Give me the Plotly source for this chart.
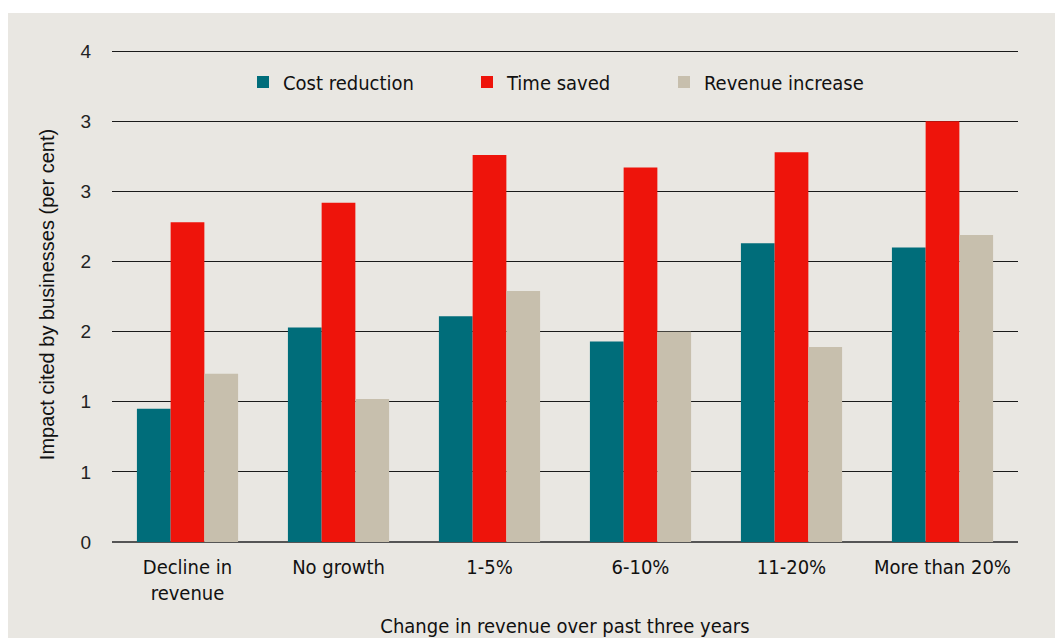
import plotly.graph_objects as go

categories = ["Decline in<br>revenue", "No growth", "1-5%", "6-10%", "11-20%", "More than 20%"]
cost_reduction = [0.95, 1.53, 1.61, 1.43, 2.13, 2.10]
time_saved = [2.28, 2.42, 2.76, 2.67, 2.78, 3.00]
revenue_increase = [1.20, 1.02, 1.79, 1.50, 1.39, 2.19]
tick_values = [0, 0.5, 1, 1.5, 2, 2.5, 3, 3.5]
tick_labels = ["0", "1", "1", "2", "2", "3", "3", "4"]

BG = "#E9E7E2"
NARROW = "DejaVu Sans Condensed, Liberation Sans Narrow, sans-serif"
SANS = "Liberation Sans, Arial, sans-serif"

W, H = 1055, 638
L, R, T, B = 112, 37, 47, 96
pw, ph = W - L - R, H - T - B


def px_x(x):
    return (x - L) / pw


def px_y(y):
    return (H - B - y) / ph


series = [
    ("Cost reduction", cost_reduction, "#006D7A", "legend", 253),
    ("Time saved", time_saved, "#EE140B", "legend2", 477),
    ("Revenue increase", revenue_increase, "#C7BFAD", "legend3", 674),
]

fig = go.Figure()
for name, vals, color, leg, _ in series:
    fig.add_trace(go.Bar(
        x=categories, y=vals, name=name, legend=leg,
        marker=dict(color=color, line=dict(width=0)),
    ))

# grey panel behind everything, leaving a thin white strip on the left and top
fig.add_shape(
    type="rect", xref="paper", yref="paper", layer="below",
    x0=px_x(8), x1=px_x(W), y0=px_y(H), y1=px_y(13),
    fillcolor=BG, line=dict(width=0),
)

legend_font = dict(family=NARROW, size=20, color="#111111")
legends = {}
for _, _, _, leg, xpos in series:
    legends[leg] = dict(
        orientation="h", x=px_x(xpos - 10), xanchor="left",
        y=px_y(82), yanchor="middle",
        font=legend_font, bgcolor="rgba(0,0,0,0)",
        itemwidth=30,
    )

fig.update_layout(
    width=W, height=H,
    margin=dict(l=L, r=R, t=T, b=B, autoexpand=False),
    paper_bgcolor="white",
    plot_bgcolor="rgba(0,0,0,0)",
    barmode="group",
    bargap=0.33,
    bargroupgap=0,
    showlegend=True,
    **legends,
    xaxis=dict(
        automargin=False,
        tickfont=dict(family=NARROW, size=20, color="#111111"),
        showgrid=False, showline=False, ticks="",
        ticklabelstandoff=11,
        title=dict(text="Change in revenue over past three years",
                   font=dict(family=NARROW, size=20, color="#111111"), standoff=14),
    ),
    yaxis=dict(
        automargin=False,
        range=[0, 3.53],
        tickvals=tick_values, ticktext=tick_labels,
        tickfont=dict(family=SANS, size=19, color="#222222"),
        showgrid=True, gridcolor="#1a1a1a", gridwidth=1.2,
        zeroline=True, zerolinecolor="#555555", zerolinewidth=1.5,
        ticks="", ticklabelstandoff=20,
        title=dict(text="Impact cited by businesses (per cent)",
                   font=dict(family=SANS, size=20, color="#111111"), standoff=20),
    ),
)

fig.write_html("out.html")
